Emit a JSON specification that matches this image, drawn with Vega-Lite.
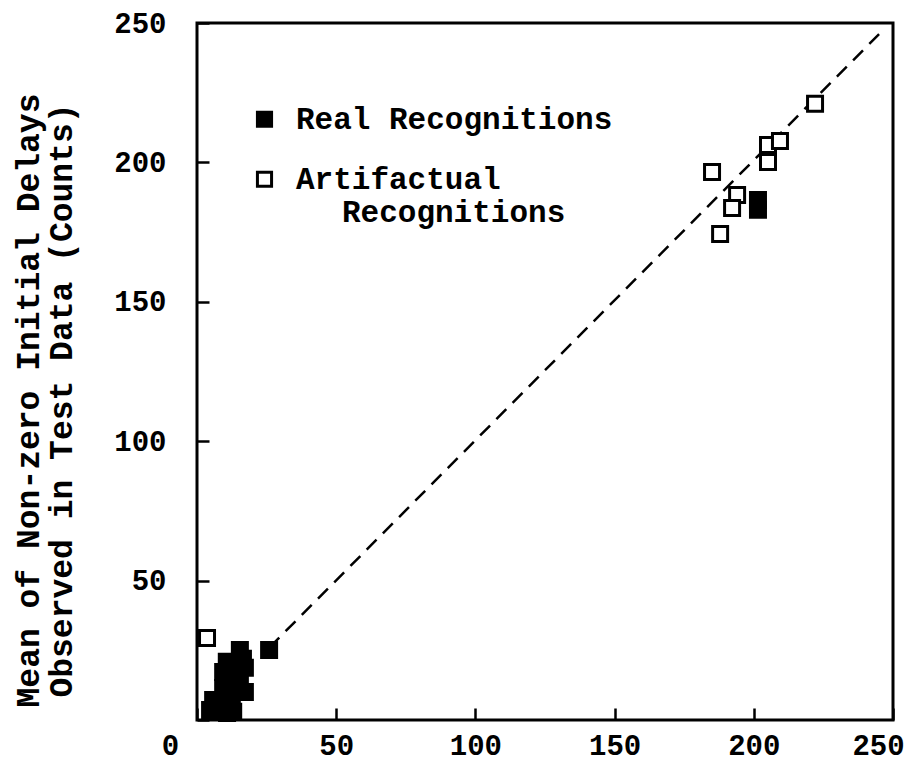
{
  "$schema": "https://vega.github.io/schema/vega-lite/v6.json",
  "width": 696,
  "height": 697,
  "autosize": "none",
  "padding": {"left": 197, "top": 23, "right": 26, "bottom": 51},
  "background": "white",
  "config": {
    "view": {"stroke": "black", "strokeWidth": 3},
    "font": "Liberation Mono"
  },
  "datasets": {
    "points": [
      {"series": "Artifactual Recognitions", "x": 3.6, "y": 29.4},
      {"series": "Artifactual Recognitions", "x": 185, "y": 196.6},
      {"series": "Artifactual Recognitions", "x": 187.9, "y": 174.3},
      {"series": "Artifactual Recognitions", "x": 194, "y": 188.3},
      {"series": "Artifactual Recognitions", "x": 192.2, "y": 183.6},
      {"series": "Artifactual Recognitions", "x": 205.1, "y": 200.1},
      {"series": "Artifactual Recognitions", "x": 205.1, "y": 206.2},
      {"series": "Artifactual Recognitions", "x": 209.4, "y": 207.7},
      {"series": "Artifactual Recognitions", "x": 222, "y": 221},
      {"series": "Real Recognitions", "x": 25.9, "y": 25.1},
      {"series": "Real Recognitions", "x": 15.4, "y": 25.1},
      {"series": "Real Recognitions", "x": 16.5, "y": 22},
      {"series": "Real Recognitions", "x": 10.7, "y": 20.9},
      {"series": "Real Recognitions", "x": 17.2, "y": 18.7},
      {"series": "Real Recognitions", "x": 12.5, "y": 17.5},
      {"series": "Real Recognitions", "x": 9.4, "y": 17.2},
      {"series": "Real Recognitions", "x": 13, "y": 14},
      {"series": "Real Recognitions", "x": 15.4, "y": 13.3},
      {"series": "Real Recognitions", "x": 17.2, "y": 10},
      {"series": "Real Recognitions", "x": 9.4, "y": 11.5},
      {"series": "Real Recognitions", "x": 12.5, "y": 8},
      {"series": "Real Recognitions", "x": 5.8, "y": 7.2},
      {"series": "Real Recognitions", "x": 8, "y": 5},
      {"series": "Real Recognitions", "x": 4.7, "y": 3.6},
      {"series": "Real Recognitions", "x": 10.8, "y": 2.5},
      {"series": "Real Recognitions", "x": 13, "y": 3},
      {"series": "Real Recognitions", "x": 201.5, "y": 186.5},
      {"series": "Real Recognitions", "x": 201.5, "y": 183}
    ],
    "diag": [
      {"x": 26, "y": 26},
      {"x": 245, "y": 246}
    ]
  },
  "layer": [
    {
      "data": {"name": "diag"},
      "mark": {"type": "line", "color": "black", "strokeWidth": 2.5, "strokeDash": [14, 9]},
      "encoding": {
        "x": {"field": "x", "type": "quantitative", "scale": {"domain": [0, 250], "nice": false}},
        "y": {"field": "y", "type": "quantitative", "scale": {"domain": [0, 250], "nice": false}}
      }
    },
    {
      "data": {"name": "points"},
      "mark": {"type": "point", "shape": "square", "filled": true, "stroke": "black", "strokeWidth": 3, "size": 225, "opacity": 1},
      "encoding": {
        "x": {
          "field": "x", "type": "quantitative",
          "scale": {"domain": [0, 250], "nice": false},
          "axis": {
            "title": null,
            "zindex": 1,
            "values": [0, 50, 100, 150, 200, 250],
            "domain": false,
            "ticks": false,
            "tickSize": 0,
            "grid": true,
            "gridColor": "black",
            "gridWidth": 2.5,
            "gridOpacity": 1,
            "gridDash": [0, 685, 14, 3000],
            "labelFont": "Liberation Mono",
            "labelFontWeight": "bold",
            "labelFontSize": 29,
            "labelColor": "black",
            "labelPadding": 11,
            "labelBaseline": "top",
            "labelOffset": {"condition": [{"test": "datum.value === 0", "value": -27}, {"test": "datum.value === 250", "value": -15}], "value": 0},
            "labelFlush": false,
            "labelOverlap": false
          }
        },
        "y": {
          "field": "y", "type": "quantitative",
          "scale": {"domain": [0, 250], "nice": false},
          "axis": {
            "title": ["Mean of Non-zero Initial Delays", "Observed in Test Data (Counts)"],
            "zindex": 1,
            "titleFont": "Liberation Mono",
            "titleFontWeight": "bold",
            "titleFontSize": 33,
            "titleLineHeight": 33,
            "titleColor": "black",
            "titleAngle": 270,
            "titleAlign": "center",
            "titleBaseline": "middle",
            "titleX": -169,
            "titleY": 377,
            "values": [0, 50, 100, 150, 200, 250],
            "labelExpr": "datum.value === 0 ? '' : datum.label",
            "domain": false,
            "ticks": false,
            "tickSize": 0,
            "grid": true,
            "gridColor": "black",
            "gridWidth": 2.5,
            "gridOpacity": 1,
            "gridDash": [12, 3000],
            "labelFont": "Liberation Mono",
            "labelFontWeight": "bold",
            "labelFontSize": 29,
            "labelColor": "black",
            "labelPadding": 31,
            "labelFlush": false,
            "labelOverlap": false
          }
        },
        "fill": {
          "field": "series", "type": "nominal",
          "scale": {"domain": ["Real Recognitions", "Artifactual Recognitions"], "range": ["black", "white"]},
          "legend": {
            "title": null,
            "orient": "none",
            "legendX": 52,
            "legendY": 66,
            "padding": 0,
            "symbolType": "M-1,1.08H1V3.08H-1Z",
            "symbolSize": 200,
            "symbolStrokeColor": "black",
            "symbolStrokeWidth": 3,
            "symbolOpacity": 1,
            "labelFont": "Liberation Mono",
            "labelFontWeight": "bold",
            "labelFontSize": 31,
            "labelColor": "black",
            "labelLimit": 0,
            "labelOffset": 16,
            "labelBaseline": "top",
            "labelExpr": "datum.label === 'Artifactual Recognitions' ? ['Artifactual', '\u2800\u2800Recognitions'] : datum.label",
            "rowPadding": 14
          }
        }
      }
    }
  ]
}
